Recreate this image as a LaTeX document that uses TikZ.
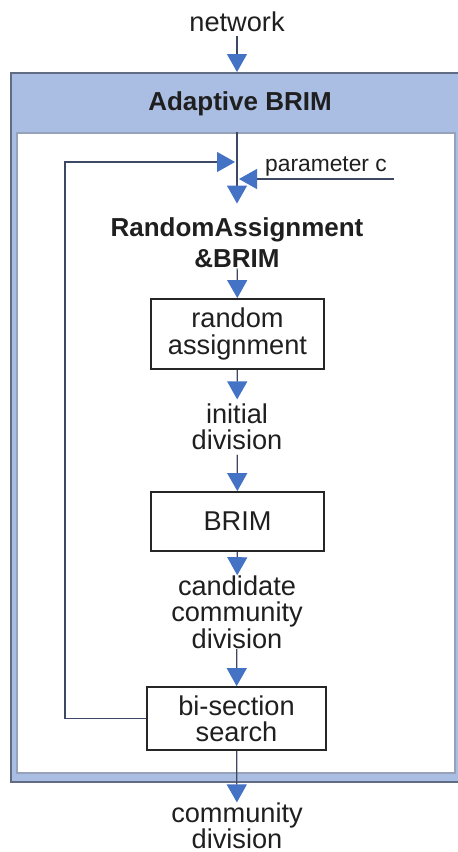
\documentclass[tikz,border=0pt]{standalone}
\usepackage{fontspec}
\setmainfont{Liberation Sans}
\usetikzlibrary{arrows.meta, positioning}
\definecolor{headblue}{RGB}{170, 189, 226}
\definecolor{frameslate}{RGB}{96, 108, 132}
\definecolor{innerslate}{RGB}{150, 162, 186}
\definecolor{tipblue}{RGB}{68, 114, 196}
\definecolor{lineslate}{RGB}{60, 72, 100}

\begin{document}
\begin{tikzpicture}[
    x=0.5pt, y=-0.5pt,
    every node/.style={font=\fontsize{13.6}{13.2}\selectfont, text=black!88},
    txt/.style={align=center, inner sep=2pt},
    heading/.style={
        align=center,
        inner sep=0pt,
        font=\fontsize{13}{15.5}\selectfont\bfseries
    },
    stage/.style={
        rectangle,
        draw=black!85,
        line width=0.9pt,
        minimum width=86.5pt,
        align=center,
        inner sep=0pt
    },
    outerbox/.style={rectangle, draw=frameslate, fill=headblue, line width=1pt},
    innerbox/.style={rectangle, draw=innerslate, fill=white, line width=0.6pt},
    flow/.style={draw=lineslate, line width=0.6pt, -{Triangle[width=10pt, length=9pt, color=tipblue]}}
]
    \useasboundingbox (0,0) rectangle (457,852);

    % Container: Adaptive BRIM
    \node[outerbox, minimum width=225.5pt, minimum height=354.5pt] (outer) at (236.5,427.5) {};
    \node[innerbox, minimum width=219pt, minimum height=320pt] (inner) at (236,453) {};
    \node[heading] (title) at (240,104) {Adaptive BRIM};

    % Input and output
    \node[txt] (net) at (237,22) {network};
    \node[txt, inner sep=0pt] (comm) at (237,826) {community\\division};

    % Inner steps (top to bottom)
    \node[heading] (rab) at (237,243) {RandomAssignment\\\&BRIM};
    \node[stage, minimum height=35pt] (rand) at (237.5,334) {random\\assignment};
    \node[txt] (init) at (237,427) {initial\\division};
    \node[stage, minimum height=29.5pt] (brim) at (237.5,521.5) {BRIM};
    \node[txt, inner sep=0pt] (cand) at (237,612) {candidate\\community\\division};
    \node[stage, minimum width=89.5pt, minimum height=31.5pt] (bis) at (236.5,718.5) {bi-section\\search};

    % Side input
    \node[txt, anchor=south, inner xsep=3.5pt, inner ysep=1pt, font=\fontsize{11.4}{13}\selectfont] (par) at (326,179) {parameter c};
    \coordinate (loop) at (65,162);

    % Main flow
    \draw[flow] (net) -- (outer.north -| net);
    \draw[flow, shorten >=7pt] (inner.north -| rab) -- (rab.north);
    \draw[flow] (rab) -- (rand);
    \draw[flow] (rand) -- (init);
    \draw[flow] (init) -- (brim);
    \draw[flow] (brim) -- (cand);
    \draw[flow] (cand) -- (bis);
    \draw[flow] (bis) -- (comm);

    % Feedback loop and parameter
    \draw[flow, shorten >=1pt] (bis.west) -| (loop) -- (loop -| rab.north);
    \draw[flow, shorten >=1pt] (par.south east) -- (par.south west) -- (par.south -| rab.north);
\end{tikzpicture}
\end{document}
